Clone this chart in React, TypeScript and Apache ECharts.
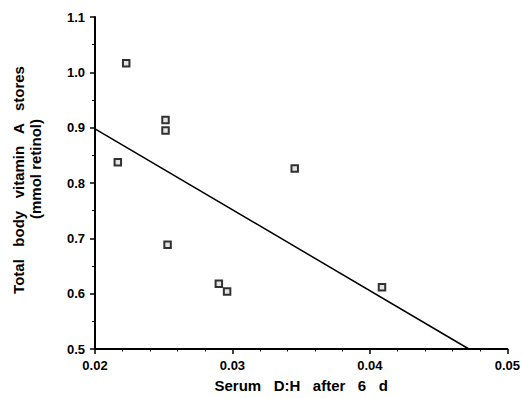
import React, { useEffect, useRef } from "react";
import * as echarts from "echarts";

const pointsX = [0.02227, 0.02513, 0.02513, 0.02166, 0.03453, 0.02528, 0.02901, 0.02961, 0.04088];
const pointsY = [1.0165, 0.9138, 0.8948, 0.8376, 0.8261, 0.6884, 0.6181, 0.6038, 0.6115];
const fitX = [0.02, 0.0472];
const fitY = [0.898, 0.5];
const xTitle = "Serum   D:H   after   6   d";
const yTitle1 = "Total   body   vitamin   A   stores";
const yTitle2 = "(mmol retinol)";

const FONT = "'Liberation Sans', Arial, Helvetica, sans-serif";

export default function App() {
  const ref = useRef<HTMLDivElement>(null);
  useEffect(() => {
    if (!ref.current) return;
    const chart = echarts.init(ref.current, undefined, { renderer: "svg" });
    chart.setOption({
      animation: false,
      backgroundColor: "#ffffff",
      grid: { left: 95, right: 15, top: 17, bottom: 45, containLabel: false },
      xAxis: {
        type: "value",
        min: 0.02,
        max: 0.05,
        interval: 0.01,
        name: xTitle,
        nameLocation: "middle",
        nameGap: 29,
        nameTextStyle: { fontFamily: FONT, fontWeight: "bold", fontSize: 15, color: "#000" },
        axisLine: { show: true, onZero: false, lineStyle: { color: "#000", width: 2 } },
        axisTick: { show: true, length: 5, lineStyle: { color: "#000", width: 1.5 } },
        minorTick: { show: true, splitNumber: 5, length: 2.5, lineStyle: { color: "#000", width: 1 } },
        splitLine: { show: false },
        axisLabel: {
          margin: 10,
          fontFamily: FONT,
          fontWeight: "bold",
          fontSize: 13,
          color: "#000",
          formatter: (v: number) => v.toFixed(2),
        },
      },
      yAxis: {
        type: "value",
        min: 0.5,
        max: 1.1,
        interval: 0.1,
        axisLine: { show: true, onZero: false, lineStyle: { color: "#000", width: 2 } },
        axisTick: { show: true, length: 5, lineStyle: { color: "#000", width: 1.5 } },
        minorTick: { show: true, splitNumber: 2, length: 3, lineStyle: { color: "#000", width: 1 } },
        splitLine: { show: false },
        axisLabel: {
          margin: 10,
          fontFamily: FONT,
          fontWeight: "bold",
          fontSize: 13,
          color: "#000",
          formatter: (v: number) => v.toFixed(1),
        },
      },
      graphic: [
        {
          type: "text",
          x: 18,
          y: 180,
          rotation: Math.PI / 2,
          style: {
            text: yTitle1,
            fontFamily: FONT,
            fontWeight: "bold",
            fontSize: 15,
            fill: "#000",
            textAlign: "center",
            textVerticalAlign: "middle",
          },
        },
        {
          type: "text",
          x: 35,
          y: 169,
          rotation: Math.PI / 2,
          style: {
            text: yTitle2,
            fontFamily: FONT,
            fontWeight: "bold",
            fontSize: 15,
            fill: "#000",
            textAlign: "center",
            textVerticalAlign: "middle",
          },
        },
      ],
      series: [
        {
          type: "line",
          data: fitX.map((x, i) => [x, fitY[i]]),
          showSymbol: false,
          symbol: "none",
          lineStyle: { color: "#000", width: 1.5 },
          silent: true,
          z: 2,
        },
        {
          type: "scatter",
          data: pointsX.map((x, i) => [x, pointsY[i]]),
          symbol: "rect",
          symbolSize: 6.5,
          itemStyle: { color: "#dddddd", borderColor: "#000", borderWidth: 2 },
          z: 3,
        },
      ],
    });
    return () => chart.dispose();
  }, []);
  return (
    <div
      ref={ref}
      style={{ position: "fixed", left: 0, top: 0, width: 523, height: 398, background: "#fff" }}
    />
  );
}
